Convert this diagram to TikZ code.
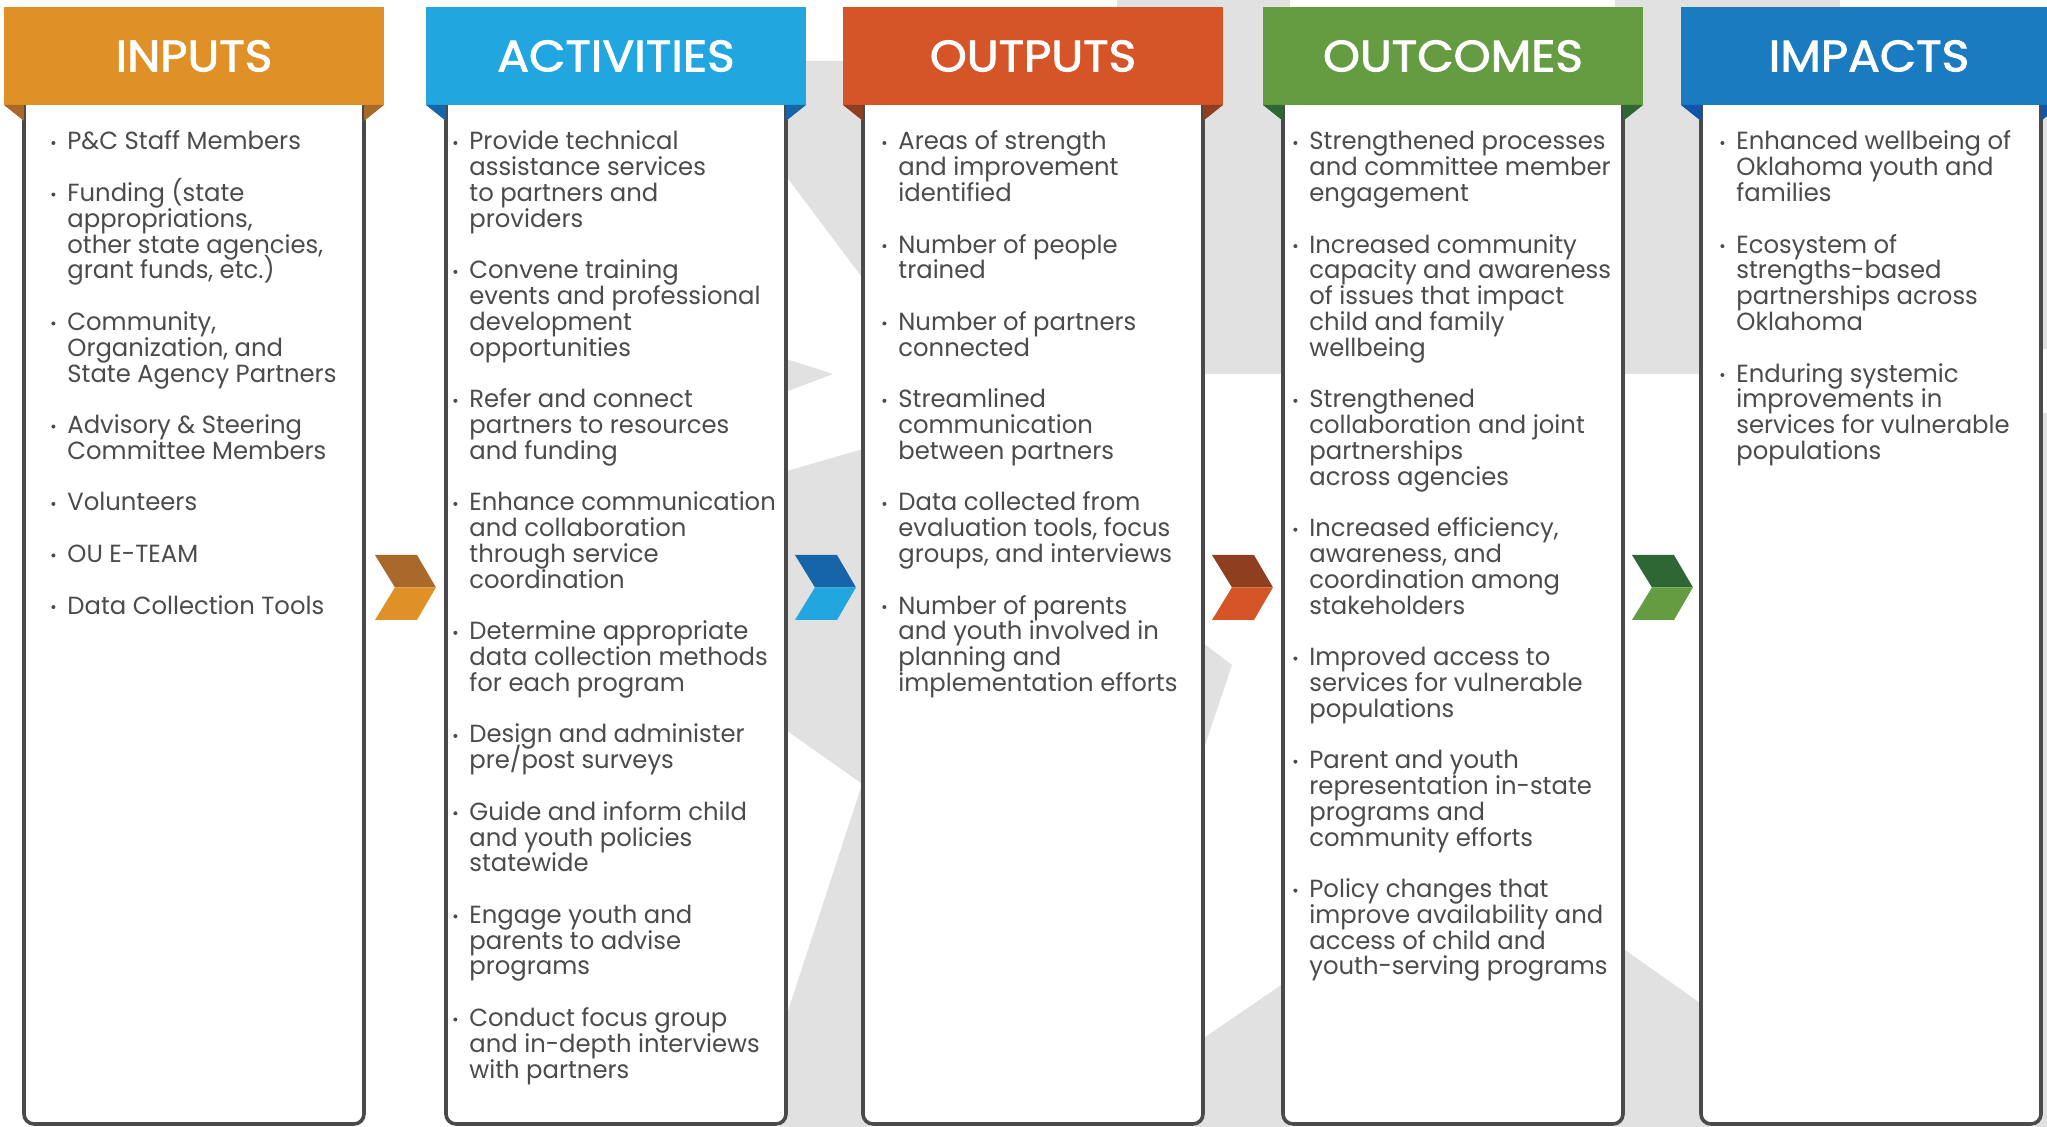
\documentclass[tikz,border=0pt]{standalone}
\usepackage{fontspec}
\setmainfont{Poppins}[FakeStretch=0.98]
\newfontfamily\hdrfont{Poppins}[FakeBold=2,FakeStretch=1.07]
\definecolor{txtc}{HTML}{4B4B4D}
\definecolor{linec}{HTML}{4A4A4A}
\definecolor{bgg}{HTML}{E1E1E1}
\definecolor{inpA}{HTML}{DF9127}\definecolor{inpB}{HTML}{A8692A}
\definecolor{actA}{HTML}{21A6DF}\definecolor{actB}{HTML}{1565A8}
\definecolor{outA}{HTML}{D65528}\definecolor{outB}{HTML}{8E3F20}
\definecolor{ocmA}{HTML}{659C42}\definecolor{ocmB}{HTML}{2E6634}
\definecolor{impA}{HTML}{1A7BC1}\definecolor{impB}{HTML}{0F55A8}
\newcommand\bul{\llap{\tikz[baseline=-3.5pt]\fill[txtc] (0,0) circle (1pt);\hspace{6pt}}}
\newcommand\lmcolumn[3]{%
  \path[colline] ({#1+20},105) -- ({#1+20},1124) -- ({#1+360},1124) -- ({#1+360},105);
  \fill[#2] (#1,7) rectangle ({#1+380},105);
  \fill[#3] (#1,105) -- ({#1+20},105) -- ({#1+20},121) -- cycle;
  \fill[#3] ({#1+360},105) -- ({#1+380},105) -- ({#1+360},121) -- cycle;
}
\newcommand\lmchev[3]{%
  \fill[#2] (#1,555) -- ({#1+42},555) -- ({#1+61},587.5) -- ({#1+20},587.5) -- cycle;
  \fill[#3] ({#1+20},587.3) -- ({#1+61},587.3) -- ({#1+42},620) -- (#1,620) -- cycle;
}
\begin{document}
\begin{tikzpicture}[x=0.5pt,y=-0.5pt,
  ln/.style={anchor=base west, inner sep=0pt, text=txtc, font=\fontsize{12.4pt}{13pt}\selectfont},
  hdr/.style={inner sep=0pt, text=white, font=\hdrfont\fontsize{22pt}{24pt}\selectfont},
  colline/.style={draw=linec, line width=1.8pt, fill=white, rounded corners=5pt},
  bg/.style={fill=bgg}]
\useasboundingbox (0,0) rectangle (2047,1127);
\clip (0,0) rectangle (2047,1127);
\fill[white] (0,0) rectangle (2047,1127);
% background star pieces
\fill[bg] (780,61) -- (870,61) -- (870,288) -- (780,168) -- cycle;
\fill[bg] (780,357) -- (833,374) -- (780,394) -- cycle;
\fill[bg] (780,473) -- (870,447) -- (870,1127) -- (780,1127) -- cycle;
\fill[white] (780,726) -- (862,784) -- (780,1035) -- cycle;
\fill[bg] (1117,0) rectangle (1290,374);
\fill[bg] (1195,637) -- (1232,665) -- (1195,775) -- cycle;
\fill[bg] (1195,1044) -- (1290,979) -- (1290,1127) -- (1195,1127) -- cycle;
\fill[bg] (1615,0) rectangle (1710,374);
\fill[bg] (1615,0) rectangle (1840,10);
\fill[bg] (1615,943) -- (1710,1010) -- (1710,1127) -- (1615,1127) -- cycle;
\fill[bg] (2035,105) rectangle (2047,349);
\fill[bg] (2035,413) rectangle (2047,1127);
% columns
\lmcolumn{4}{inpA}{inpB}
\lmcolumn{426}{actA}{actB}
\lmcolumn{843}{outA}{outB}
\lmcolumn{1263}{ocmA}{ocmB}
\lmcolumn{1681}{impA}{impB}
\node[hdr] (hin) at (194,56) {INPUTS};
\node[hdr] (hact) at (616,56) {ACTIVITIES};
\node[hdr] (hout) at (1033,56) {OUTPUTS};
\node[hdr] (hocm) at (1453,56) {OUTCOMES};
\node[hdr] (himp) at (1869,56) {IMPACTS};
% chevrons
\lmchev{375}{inpB}{inpA}
\lmchev{795}{actB}{actA}
\lmchev{1212}{outB}{outA}
\lmchev{1632}{ocmB}{ocmA}
% texts
\foreach \k/\t in {0/{\bul P\&C Staff Members}, 2/{\bul Funding (state}, 3/{appropriations,}, 4/{other state agencies,}, 5/{grant funds, etc.)}, 7/{\bul Community,}, 8/{Organization, and}, 9/{State Agency Partners}, 11/{\bul Advisory \& Steering}, 12/{Committee Members}, 14/{\bul Volunteers}, 16/{\bul OU E-TEAM}, 18/{\bul Data Collection Tools}}
  \node[ln] (in\k) at (67,{150+\k*25.78}) {\t};
\foreach \k/\t in {0/{\bul Provide technical}, 1/{assistance services}, 2/{to partners and}, 3/{providers}, 5/{\bul Convene training}, 6/{events and professional}, 7/{development}, 8/{opportunities}, 10/{\bul Refer and connect}, 11/{partners to resources}, 12/{and funding}, 14/{\bul Enhance communication}, 15/{and collaboration}, 16/{through service}, 17/{coordination}, 19/{\bul Determine appropriate}, 20/{data collection methods}, 21/{for each program}, 23/{\bul Design and administer}, 24/{pre/post surveys}, 26/{\bul Guide and inform child}, 27/{and youth policies}, 28/{statewide}, 30/{\bul Engage youth and}, 31/{parents to advise}, 32/{programs}, 34/{\bul Conduct focus group}, 35/{and in-depth interviews}, 36/{with partners}}
  \node[ln] (act\k) at (469,{150+\k*25.78}) {\t};
\foreach \k/\t in {0/{\bul Areas of strength}, 1/{and improvement}, 2/{identified}, 4/{\bul Number of people}, 5/{trained}, 7/{\bul Number of partners}, 8/{connected}, 10/{\bul Streamlined}, 11/{communication}, 12/{between partners}, 14/{\bul Data collected from}, 15/{evaluation tools, focus}, 16/{groups, and interviews}, 18/{\bul Number of parents}, 19/{and youth involved in}, 20/{planning and}, 21/{implementation efforts}}
  \node[ln] (out\k) at (898,{150+\k*25.78}) {\t};
\foreach \k/\t in {0/{\bul Strengthened processes}, 1/{and committee member}, 2/{engagement}, 4/{\bul Increased community}, 5/{capacity and awareness}, 6/{of issues that impact}, 7/{child and family}, 8/{wellbeing}, 10/{\bul Strengthened}, 11/{collaboration and joint}, 12/{partnerships}, 13/{across agencies}, 15/{\bul Increased efficiency,}, 16/{awareness, and}, 17/{coordination among}, 18/{stakeholders}, 20/{\bul Improved access to}, 21/{services for vulnerable}, 22/{populations}, 24/{\bul Parent and youth}, 25/{representation in-state}, 26/{programs and}, 27/{community efforts}, 29/{\bul Policy changes that}, 30/{improve availability and}, 31/{access of child and}, 32/{youth-serving programs}}
  \node[ln] (ocm\k) at (1309,{150+\k*25.78}) {\t};
\foreach \k/\t in {0/{\bul Enhanced wellbeing of}, 1/{Oklahoma youth and}, 2/{families}, 4/{\bul Ecosystem of}, 5/{strengths-based}, 6/{partnerships across}, 7/{Oklahoma}, 9/{\bul Enduring systemic}, 10/{improvements in}, 11/{services for vulnerable}, 12/{populations}}
  \node[ln] (imp\k) at (1736,{150+\k*25.78}) {\t};
\end{tikzpicture}
\end{document}
